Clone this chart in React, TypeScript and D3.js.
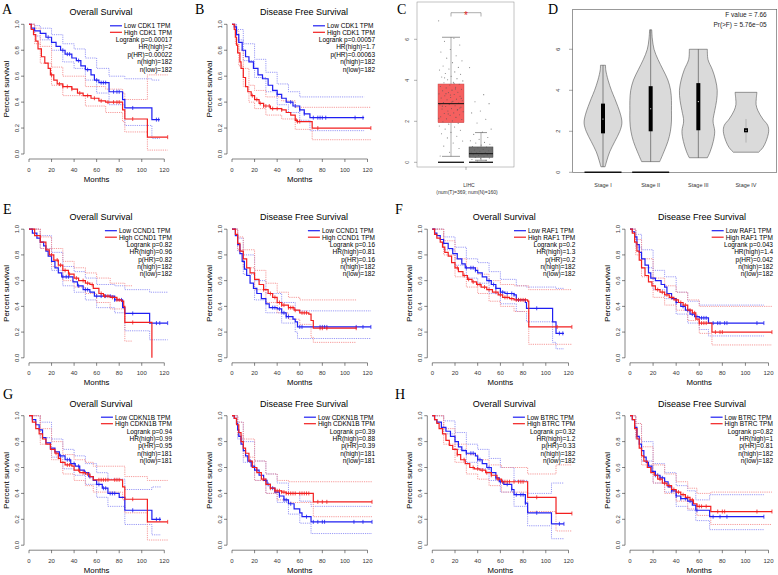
import React from "react";
import * as d3 from "d3";

type Pt = number[];

const SANS = "Liberation Sans, Arial, Helvetica, sans-serif";
const SERIF = "Liberation Serif, Times New Roman, serif";
const BLUE = "#1f1ff2";
const RED = "#f21f1f";
const BLUE_CI = "#8f8ff5";
const RED_CI = "#f59090";

const monthTicks = [0, 20, 40, 60, 80, 100, 120];
const survTicks = [0, 0.2, 0.4, 0.6, 0.8, 1.0];

// ---- survival curves: steps [t, s], ci [t, lo, hi], censor times ----
// A: CDK1 overall survival
const cdk1OsLow = [[0,1],[2,.97],[5,.95],[10,.93],[15,.9],[20,.86],[24,.83],[28,.8],[32,.77],[38,.74],[42,.72],[46,.68],[50,.65],[55,.61],[58,.57],[62,.55],[71,.48],[83,.42],[85,.355],[109,.265],[116,.265]];
const cdk1OsLowCI = [[0,1,1],[5,.91,.99],[10,.88,.97],[20,.8,.92],[30,.71,.85],[40,.66,.81],[50,.57,.74],[60,.47,.66],[71,.38,.6],[85,.22,.58],[109,.12,.57],[116,.12,.57]];
const cdk1OsLowCens = [17,30,34,36,44,52,60,64,66,68,75,78,80,92,113,115];
const cdk1OsHigh = [[0,1],[2,.96],[4,.92],[6,.87],[8,.81],[11,.75],[14,.7],[17,.66],[19,.61],[22,.57],[25,.54],[30,.52],[38,.5],[43,.47],[48,.45],[55,.43],[62,.41],[68,.4],[83,.34],[85,.27],[105,.13],[123,.13]];
const cdk1OsHighCI = [[0,1,1],[5,.85,.97],[10,.7,.83],[20,.53,.67],[30,.45,.6],[50,.37,.52],[68,.32,.5],[83,.25,.47],[85,.17,.42],[105,.03,.61],[123,.03,.61]];
const cdk1OsHighCens = [20,27,30,34,38,45,52,58,64,70,75,78,80,92,123];

// B: CDK1 disease free survival
const cdk1DfsLow = [[0,1],[2,.98],[4,.92],[6,.86],[9,.8],[12,.75],[15,.71],[19,.66],[23,.61],[27,.58],[32,.53],[36,.49],[40,.46],[44,.43],[48,.4],[54,.37],[60,.34],[64,.31],[69,.28],[117,.28]];
const cdk1DfsLowCI = [[0,1,1],[4,.88,.96],[10,.72,.85],[20,.59,.73],[30,.48,.63],[40,.38,.54],[50,.32,.48],[60,.26,.44],[69,.18,.44],[117,.18,.44]];
const cdk1DfsLowCens = [40,52,56,60,64,72,76,78,80,83,109,116];
const cdk1DfsHigh = [[0,1],[2,.96],[3,.9],[4,.84],[5,.78],[7,.71],[8,.66],[10,.59],[12,.52],[14,.48],[17,.45],[20,.42],[24,.39],[28,.37],[34,.35],[44,.34],[48,.32],[52,.3],[56,.26],[58,.25],[71,.2],[123,.2]];
const cdk1DfsHighCI = [[0,1,1],[3,.85,.95],[6,.68,.8],[10,.52,.66],[15,.4,.53],[20,.35,.49],[30,.3,.44],[44,.27,.41],[56,.19,.36],[71,.11,.36],[123,.11,.36]];
const cdk1DfsHighCens = [18,22,25,28,30,33,36,40,44,57,58,60,76,123];

// E: CCND1
const ccnd1OsLow = [[0,1],[3,.97],[7,.93],[10,.9],[13,.87],[15,.83],[17,.79],[20,.75],[23,.7],[26,.66],[29,.63],[39,.59],[43,.56],[48,.53],[54,.51],[58,.48],[74,.48],[76,.45],[83,.39],[85,.345],[107,.27],[123,.27]];
const ccnd1OsLowCI = [[0,1,1],[10,.85,.95],[20,.68,.82],[30,.56,.71],[40,.51,.67],[50,.45,.62],[60,.39,.57],[76,.35,.56],[85,.21,.53],[107,.14,.51],[123,.14,.51]];
const ccnd1OsLowCens = [30,33,35,44,50,52,60,64,68,72,76,82,92,113,116,123];
const ccnd1OsHigh = [[0,1],[5,.95],[10,.9],[15,.84],[18,.8],[22,.76],[26,.72],[30,.68],[35,.65],[40,.62],[44,.6],[50,.58],[54,.57],[57,.54],[62,.5],[66,.48],[72,.47],[78,.45],[82,.44],[84,.4],[85,.275],[109,0]];
const ccnd1OsHighCI = [[0,1,1],[10,.85,.94],[20,.71,.85],[30,.6,.75],[40,.55,.7],[50,.5,.66],[60,.43,.62],[72,.38,.58],[85,.13,.56],[92,.13,.56]];
const ccnd1OsHighCens = [20,25,28,32,36,42,48,52,56,64,67,70,74,78,80,92];
const ccnd1DfsLow = [[0,1],[3,.95],[5,.88],[7,.81],[9,.75],[11,.69],[13,.64],[16,.58],[19,.54],[22,.5],[26,.46],[30,.42],[33,.39],[40,.38],[44,.35],[48,.32],[54,.3],[56,.28],[58,.24],[123,.24]];
const ccnd1DfsLowCI = [[0,1,1],[5,.83,.93],[10,.65,.8],[20,.45,.6],[30,.35,.5],[44,.27,.43],[56,.2,.37],[58,.15,.365],[123,.15,.365]];
const ccnd1DfsLowCens = [36,38,42,46,48,50,60,62,78,80,82,84,110,116,123];
const ccnd1DfsHigh = [[0,1],[3,.96],[5,.89],[7,.83],[10,.77],[13,.7],[16,.66],[20,.61],[24,.57],[28,.53],[32,.5],[36,.47],[40,.43],[44,.41],[50,.39],[55,.37],[60,.35],[68,.34],[70,.29],[72,.23],[110,.23]];
const ccnd1DfsHighCI = [[0,1,1],[5,.84,.94],[10,.7,.84],[20,.53,.68],[30,.43,.58],[40,.35,.51],[50,.3,.47],[60,.26,.45],[70,.16,.45],[72,.12,.45],[110,.12,.45]];
const ccnd1DfsHighCens = [28,34,38,42,44,46,50,52,54,56,62,64,66,78,80,84,110];

// F: RAF1
const raf1OsLow = [[0,1],[2,.97],[4,.95],[7,.92],[10,.89],[14,.85],[18,.81],[22,.77],[26,.73],[29,.7],[38,.68],[40,.66],[44,.63],[48,.6],[52,.57],[56,.54],[60,.51],[64,.5],[72,.49],[74,.45],[82,.43],[83,.385],[105,.385],[106,.28],[109,.19],[116,.19]];
const raf1OsLowCI = [[0,1,1],[10,.84,.94],[20,.72,.86],[30,.62,.77],[40,.58,.74],[50,.5,.67],[60,.42,.61],[74,.36,.56],[83,.28,.55],[106,.12,.55],[109,.07,.54],[116,.07,.54]];
const raf1OsLowCens = [30,34,36,38,50,54,56,60,62,66,70,72,76,92,112,115];
const raf1OsHigh = [[0,1],[2,.96],[4,.93],[7,.9],[9,.86],[11,.82],[14,.79],[17,.74],[20,.7],[23,.67],[27,.64],[31,.61],[35,.59],[39,.57],[43,.55],[48,.53],[53,.51],[58,.49],[62,.47],[68,.46],[72,.45],[84,.44],[85,.24],[123,.24]];
const raf1OsHighCI = [[0,1,1],[10,.8,.91],[20,.63,.77],[30,.55,.7],[40,.5,.65],[50,.44,.6],[60,.4,.57],[72,.36,.56],[85,.105,.53],[123,.105,.53]];
const raf1OsHighCens = [22,28,32,36,40,42,46,50,56,60,64,66,70,74,76,78,80,82,110,123];
const raf1DfsLow = [[0,1],[2,.98],[4,.94],[6,.88],[8,.82],[10,.77],[13,.72],[16,.66],[18,.62],[22,.6],[27,.57],[30,.55],[32,.5],[36,.46],[40,.43],[44,.4],[48,.37],[52,.34],[56,.32],[60,.31],[68,.27],[116,.27]];
const raf1DfsLowCI = [[0,1,1],[5,.86,.96],[10,.7,.84],[20,.53,.68],[30,.46,.63],[40,.34,.51],[50,.27,.44],[60,.22,.41],[68,.17,.41],[116,.17,.41]];
const raf1DfsLowCens = [40,46,50,54,58,62,64,66,72,76,78,82,84,110,116];
const raf1DfsHigh = [[0,1],[2,.97],[4,.9],[6,.83],[8,.76],[10,.7],[13,.64],[16,.59],[19,.56],[22,.53],[26,.51],[30,.49],[34,.47],[38,.45],[42,.43],[46,.41],[50,.37],[54,.35],[57,.3],[60,.27],[71,.2],[123,.2]];
const raf1DfsHighCI = [[0,1,1],[5,.8,.92],[10,.63,.77],[20,.47,.62],[30,.41,.56],[40,.37,.51],[50,.29,.45],[60,.19,.4],[71,.1,.4],[123,.1,.4]];
const raf1DfsHighCens = [24,28,32,36,40,44,48,52,56,60,62,64,66,74,78,80,123];

// G: CDKN1B
const cdkn1bOsLow = [[0,1],[3,.97],[6,.93],[9,.89],[12,.83],[15,.79],[19,.75],[23,.72],[27,.69],[32,.66],[37,.63],[41,.61],[45,.58],[49,.56],[53,.53],[57,.5],[60,.47],[65,.44],[70,.4],[80,.37],[85,.27],[109,.2],[117,.2]];
const cdkn1bOsLowCI = [[0,1,1],[10,.83,.95],[20,.68,.82],[30,.59,.74],[40,.54,.69],[50,.47,.63],[60,.37,.56],[70,.3,.51],[85,.16,.43],[109,.08,.45],[117,.08,.45]];
const cdkn1bOsLowCens = [28,34,36,40,44,50,54,62,66,68,72,74,76,92,113,116];
const cdkn1bOsHigh = [[0,1],[3,.95],[6,.9],[9,.86],[12,.82],[15,.78],[19,.74],[23,.71],[26,.67],[28,.64],[32,.62],[38,.61],[40,.58],[45,.56],[50,.55],[54,.53],[57,.505],[82,.505],[83,.45],[85,.355],[105,.18],[123,.18]];
const cdkn1bOsHighCI = [[0,1,1],[10,.78,.9],[20,.66,.8],[30,.55,.7],[40,.5,.66],[50,.46,.64],[57,.41,.61],[83,.35,.61],[85,.25,.53],[105,.04,.5],[123,.04,.5]];
const cdkn1bOsHighCens = [24,34,36,44,48,52,62,64,66,68,70,76,78,80,92,123];
const cdkn1bDfsLow = [[0,1],[2,.98],[4,.94],[5,.89],[6,.84],[8,.78],[10,.73],[12,.69],[14,.65],[17,.61],[20,.58],[24,.54],[28,.5],[31,.47],[34,.44],[38,.41],[42,.38],[46,.35],[50,.32],[55,.28],[60,.25],[62,.22],[70,.18],[124,.18]];
const cdkn1bDfsLowCI = [[0,1,1],[5,.82,.95],[10,.64,.8],[20,.5,.65],[30,.4,.55],[40,.33,.48],[50,.24,.4],[60,.17,.34],[70,.09,.3],[124,.09,.3]];
const cdkn1bDfsLowCens = [16,22,30,32,36,42,46,48,52,66,72,76,80,82,108,116,124];
const cdkn1bDfsHigh = [[0,1],[2,.98],[4,.93],[6,.87],[8,.8],[10,.75],[12,.71],[15,.65],[18,.6],[22,.56],[26,.51],[30,.47],[34,.44],[38,.42],[44,.41],[48,.4],[72,.335],[124,.335]];
const cdkn1bDfsHighCI = [[0,1,1],[5,.85,.95],[10,.68,.82],[20,.5,.65],[30,.4,.55],[40,.35,.5],[50,.33,.49],[72,.22,.49],[124,.22,.49]];
const cdkn1bDfsHighCens = [28,34,38,40,42,44,46,48,50,52,54,56,60,62,64,66,68,76,80,84,124];

// H: BTRC
const btrcOsLow = [[0,1],[2,.97],[4,.95],[8,.91],[12,.88],[16,.84],[20,.8],[23,.76],[26,.73],[30,.71],[38,.69],[40,.66],[44,.63],[48,.6],[52,.56],[56,.52],[59,.49],[63,.47],[70,.43],[72,.39],[82,.325],[84,.25],[105,.165],[116,.165]];
const btrcOsLowCI = [[0,1,1],[10,.86,.96],[20,.74,.87],[30,.64,.78],[40,.59,.74],[50,.5,.67],[60,.41,.6],[72,.3,.5],[84,.15,.4],[105,.05,.48],[116,.05,.48]];
const btrcOsLowCens = [30,34,36,40,42,50,56,60,62,66,70,74,78,80,82,92,112,116];
const btrcOsHigh = [[0,1],[2,.97],[4,.94],[6,.9],[9,.86],[12,.81],[15,.77],[18,.74],[22,.7],[25,.66],[29,.63],[33,.6],[37,.59],[42,.58],[47,.56],[52,.54],[57,.51],[61,.49],[84,.37],[109,.245],[123,.245]];
const btrcOsHighCI = [[0,1,1],[10,.78,.9],[20,.64,.78],[30,.55,.7],[40,.51,.66],[50,.46,.62],[61,.41,.6],[84,.26,.55],[109,.11,.62],[123,.11,.62]];
const btrcOsHighCens = [22,28,36,40,44,48,52,58,62,64,66,68,72,76,78,80,92,123];
const btrcDfsLow = [[0,1],[2,.97],[4,.91],[6,.84],[8,.78],[10,.73],[12,.68],[14,.64],[16,.61],[19,.57],[22,.54],[26,.52],[30,.49],[33,.45],[36,.42],[40,.38],[44,.36],[50,.34],[54,.31],[57,.27],[69,.22],[116,.22]];
const btrcDfsLowCI = [[0,1,1],[5,.82,.94],[10,.65,.8],[20,.48,.63],[30,.41,.56],[40,.3,.46],[50,.27,.42],[57,.19,.35],[69,.12,.39],[116,.12,.39]];
const btrcDfsLowCens = [22,24,26,28,30,36,40,44,48,52,58,72,78,84,116];
const btrcDfsHigh = [[0,1],[2,.97],[4,.9],[6,.82],[8,.75],[10,.69],[12,.65],[15,.6],[18,.56],[21,.54],[24,.51],[28,.48],[32,.46],[36,.43],[40,.41],[44,.39],[48,.37],[52,.35],[55,.32],[58,.3],[70,.26],[123,.26]];
const btrcDfsHighCI = [[0,1,1],[5,.83,.94],[10,.62,.76],[20,.48,.62],[30,.4,.55],[40,.34,.49],[50,.28,.44],[58,.23,.4],[70,.16,.41],[123,.16,.41]];
const btrcDfsHighCens = [26,30,34,38,42,46,50,54,58,60,62,66,76,80,82,110,123];

// stats text
const statsA = ["Logrank p=0.00017", "HR(high)=2", "p(HR)=0.00022", "n(high)=182", "n(low)=182"];
const statsB = ["Logrank p=0.00057", "HR(high)=1.7", "p(HR)=0.00063", "n(high)=182", "n(low)=182"];
const statsE1 = ["Logrank p=0.82", "HR(high)=0.96", "p(HR)=0.82", "n(high)=182", "n(low)=182"];
const statsE2 = ["Logrank p=0.16", "HR(high)=0.81", "p(HR)=0.16", "n(high)=182", "n(low)=182"];
const statsF1 = ["Logrank p=0.2", "HR(high)=1.3", "p(HR)=0.2", "n(high)=182", "n(low)=182"];
const statsF2 = ["Logrank p=0.043", "HR(high)=1.4", "p(HR)=0.042", "n(high)=182", "n(low)=182"];
const statsG1 = ["Logrank p=0.94", "HR(high)=0.99", "p(HR)=0.95", "n(high)=181", "n(low)=181"];
const statsG2 = ["Logrank p=0.39", "HR(high)=0.88", "p(HR)=0.39", "n(high)=181", "n(low)=181"];
const statsH1 = ["Logrank p=0.32", "HR(high)=1.2", "p(HR)=0.33", "n(high)=182", "n(low)=182"];
const statsH2 = ["Logrank p=0.82", "HR(high)=1", "p(HR)=0.81", "n(high)=182", "n(low)=182"];

// C: LIHC expression box plot
const lihcGroups = ["Tumor", "Normal"];
const lihcBoxes = [[0.29, 1.93, 2.86, 3.82, 6.1], [0.1, 0.24, 0.42, 0.75, 1.45]];
const lihcTicks = [0, 2, 4, 6];
const tumorPoints = [6.9, 6.05, 5.9, 5.72, 5.5, 5.38, 5.2, 5.08, 4.95, 4.86, 4.7, 4.63, 4.55, 4.5, 4.41, 4.33, 4.29, 4.2, 4.16, 4.08, 4.03, 3.97, 3.9, 3.88, 3.81, 3.77, 3.7, 3.66, 3.63, 3.56, 3.52, 3.49, 3.42, 3.4, 3.34, 3.31, 3.25, 3.22, 3.16, 3.14, 3.08, 3.05, 3.0, 2.97, 2.91, 2.89, 2.83, 2.81, 2.76, 2.72, 2.69, 2.62, 2.6, 2.55, 2.5, 2.47, 2.41, 2.38, 2.32, 2.29, 2.22, 2.19, 2.12, 2.09, 2.02, 1.98, 1.9, 1.86, 1.77, 1.72, 1.62, 1.56, 1.46, 1.39, 1.27, 1.19, 1.04, 0.94, 0.79, 0.67, 0.49, 0.31, 3.58, 3.35, 3.12, 2.94, 2.74, 2.57, 2.36, 2.15, 3.85, 4.12, 2.65, 3.28];
const normalPoints = [4.62, 3.3, 2.95, 2.86, 2.5, 2.41, 2.1, 1.92, 1.62, 1.48, 1.36, 1.21, 1.12, 1.05, 0.97, 0.94, 0.88, 0.84, 0.77, 0.74, 0.71, 0.65, 0.63, 0.6, 0.56, 0.54, 0.5, 0.48, 0.46, 0.43, 0.41, 0.37, 0.36, 0.33, 0.3, 0.27, 0.24, 0.21, 0.18, 0.14, 0.1, 0.06];

// D: violin by stage
const stages = ["Stage I", "Stage II", "Stage III", "Stage IV"];
const stageTicks = [0, 2, 4, 6];
const stageDensity = [
  [[0.27,0.1],[0.6,0.19],[1.0,0.32],[1.5,0.56],[2.0,0.8],[2.4,0.9],[2.8,0.84],[3.2,0.71],[3.6,0.56],[4.0,0.4],[4.5,0.24],[5.0,0.13],[5.22,0.12]],
  [[0.52,0.43],[1.0,0.63],[1.5,0.82],[2.0,0.94],[2.5,0.99],[3.0,0.99],[3.5,0.99],[4.0,0.95],[4.5,0.82],[5.0,0.59],[5.5,0.35],[6.0,0.16],[6.5,0.08],[6.95,0.05]],
  [[0.71,0.43],[1.0,0.56],[1.5,0.71],[2.0,0.78],[2.5,0.7],[3.0,0.78],[3.5,0.87],[4.0,0.9],[4.5,0.82],[5.0,0.67],[5.5,0.46],[6.0,0.43]],
  [[0.98,0.6],[1.2,0.8],[1.5,0.95],[2.0,1.08],[2.3,1.03],[2.6,0.8],[3.0,0.57],[3.3,0.48],[3.6,0.49],[3.9,0.52]],
];
const stageStats = [[0.27, 1.9, 2.6, 3.35, 5.22], [0.52, 2.0, 3.1, 4.2, 6.95], [0.71, 2.05, 3.45, 4.35, 6.0], [1.45, 1.95, 2.05, 2.15, 2.6]];
const stageZeros = ["Stage I", "Stage II"];
const anovaText = ["F value = 7.66", "Pr(>F) = 5.76e\u221205"];

// layout
const cols = [{ x0: 29, x120: 164.3 }, { x0: 232, x120: 367.5 }, { x0: 432.3, x120: 568.5 }, { x0: 630, x120: 768.5 }];
const rows = [{ y1: 24.3, y0: 154 }, { y1: 229.2, y0: 357.8 }, { y1: 415.7, y0: 545.2 }];
const OS = "Overall Survival";
const DFS = "Disease Free Survival";

const kmPanels = [
  { c: 0, r: 0, title: OS, gene: "CDK1", stats: statsA, low: [cdk1OsLow, cdk1OsLowCI, cdk1OsLowCens], high: [cdk1OsHigh, cdk1OsHighCI, cdk1OsHighCens] },
  { c: 1, r: 0, title: DFS, gene: "CDK1", stats: statsB, low: [cdk1DfsLow, cdk1DfsLowCI, cdk1DfsLowCens], high: [cdk1DfsHigh, cdk1DfsHighCI, cdk1DfsHighCens] },
  { c: 0, r: 1, title: OS, gene: "CCND1", stats: statsE1, low: [ccnd1OsLow, ccnd1OsLowCI, ccnd1OsLowCens], high: [ccnd1OsHigh, ccnd1OsHighCI, ccnd1OsHighCens] },
  { c: 1, r: 1, title: DFS, gene: "CCND1", stats: statsE2, low: [ccnd1DfsLow, ccnd1DfsLowCI, ccnd1DfsLowCens], high: [ccnd1DfsHigh, ccnd1DfsHighCI, ccnd1DfsHighCens] },
  { c: 2, r: 1, title: OS, gene: "RAF1", stats: statsF1, low: [raf1OsLow, raf1OsLowCI, raf1OsLowCens], high: [raf1OsHigh, raf1OsHighCI, raf1OsHighCens] },
  { c: 3, r: 1, title: DFS, gene: "RAF1", stats: statsF2, low: [raf1DfsLow, raf1DfsLowCI, raf1DfsLowCens], high: [raf1DfsHigh, raf1DfsHighCI, raf1DfsHighCens] },
  { c: 0, r: 2, title: OS, gene: "CDKN1B", stats: statsG1, low: [cdkn1bOsLow, cdkn1bOsLowCI, cdkn1bOsLowCens], high: [cdkn1bOsHigh, cdkn1bOsHighCI, cdkn1bOsHighCens] },
  { c: 1, r: 2, title: DFS, gene: "CDKN1B", stats: statsG2, low: [cdkn1bDfsLow, cdkn1bDfsLowCI, cdkn1bDfsLowCens], high: [cdkn1bDfsHigh, cdkn1bDfsHighCI, cdkn1bDfsHighCens] },
  { c: 2, r: 2, title: OS, gene: "BTRC", stats: statsH1, low: [btrcOsLow, btrcOsLowCI, btrcOsLowCens], high: [btrcOsHigh, btrcOsHighCI, btrcOsHighCens] },
  { c: 3, r: 2, title: DFS, gene: "BTRC", stats: statsH2, low: [btrcDfsLow, btrcDfsLowCI, btrcDfsLowCens], high: [btrcDfsHigh, btrcDfsHighCI, btrcDfsHighCens] },
];

const panelLetters = [
  { t: "A", x: 2, y: 14 }, { t: "B", x: 195, y: 14 }, { t: "C", x: 397, y: 14 }, { t: "D", x: 548, y: 14 },
  { t: "E", x: 3, y: 213.5 }, { t: "F", x: 395, y: 213.5 }, { t: "G", x: 3, y: 398.5 }, { t: "H", x: 395, y: 398.5 },
];

let measureCtx: CanvasRenderingContext2D | null = null;
function textWidth(s: string, size: number) {
  if (!measureCtx && typeof document !== "undefined") measureCtx = document.createElement("canvas").getContext("2d");
  if (!measureCtx) return s.length * size * 0.55;
  measureCtx.font = `${size}px ${SANS}`;
  return measureCtx.measureText(s).width;
}

function survAt(steps: Pt[], t: number) {
  const i = d3.bisector((d: Pt) => d[0]).right(steps, t) - 1;
  return steps[Math.max(0, i)][1];
}

function KMPlot({ p }: { p: any }) {
  const { x0, x120 } = cols[p.c];
  const { y1, y0 } = rows[p.r];
  const x = d3.scaleLinear().domain([0, 120]).range([x0, x120]);
  const y = d3.scaleLinear().domain([0, 1]).range([y0, y1]);
  const line = d3.line<Pt>().x(d => x(d[0])).y(d => y(d[1])).curve(d3.curveStepAfter);
  const hiLine = d3.line<Pt>().x(d => x(d[0])).y(d => y(d[2])).curve(d3.curveStepAfter);
  const axX = x0 - 5;
  const axY = y0 + 5;
  const fs = 6.5;
  const labels = [`Low ${p.gene} TPM`, `High ${p.gene} TPM`];
  const legRight = x0 + 143;
  const legX = legRight - (d3.max(labels, s => textWidth(s, fs)) as number);
  const curves = [
    { d: p.low, col: BLUE, ci: BLUE_CI },
    { d: p.high, col: RED, ci: RED_CI },
  ];
  return (
    <g fontFamily={SANS}>
      <text x={x0 + 72} y={y1 - 9} textAnchor="middle" fontSize={9}>{p.title}</text>
      {curves.map((k, i) => (
        <g key={"ci" + i} fill="none" stroke={k.ci} strokeWidth={0.9} strokeDasharray="1.2 1">
          <path d={line(k.d[1]) || ""} />
          <path d={hiLine(k.d[1]) || ""} />
        </g>
      ))}
      {curves.map((k, i) => {
        const steps: Pt[] = k.d[0];
        const tEnd = steps[steps.length - 1][0];
        return (
          <g key={"km" + i}>
            <path d={line(steps) || ""} fill="none" stroke={k.col} strokeWidth={1.2} />
            {(k.d[2] as number[]).filter(t => t <= tEnd).map((t, j) => {
              const yy = y(survAt(steps, t));
              return <line key={j} x1={x(t)} x2={x(t)} y1={yy - 2} y2={yy + 2} stroke={k.col} strokeWidth={0.8} />;
            })}
          </g>
        );
      })}
      {/* y axis */}
      <line x1={axX} x2={axX} y1={y(0)} y2={y(1)} stroke="#333" strokeWidth={0.6} />
      {survTicks.map(v => (
        <g key={"yt" + v}>
          <line x1={axX - 3} x2={axX} y1={y(v)} y2={y(v)} stroke="#333" strokeWidth={0.6} />
          <text transform={`translate(${axX - 5},${y(v)}) rotate(-90)`} textAnchor="middle" fontSize={6} fill="#333">{v.toFixed(1)}</text>
        </g>
      ))}
      <text transform={`translate(${x0 - 20},${(y0 + y1) / 2}) rotate(-90)`} textAnchor="middle" fontSize={8}>Percent survival</text>
      {/* x axis */}
      <line x1={x(0)} x2={x(120)} y1={axY} y2={axY} stroke="#333" strokeWidth={0.6} />
      {monthTicks.map(v => (
        <g key={"xt" + v}>
          <line x1={x(v)} x2={x(v)} y1={axY} y2={axY + 3} stroke="#333" strokeWidth={0.6} />
          <text x={x(v)} y={y0 + 17.5} textAnchor="middle" fontSize={6} fill="#333">{v}</text>
        </g>
      ))}
      <text x={x(60)} y={y0 + 27.5} textAnchor="middle" fontSize={7.8}>Months</text>
      {/* legend */}
      {labels.map((s, i) => (
        <g key={"lg" + i}>
          <line x1={legX - 14} x2={legX - 2} y1={y1 + 1.5 + i * 6.5} y2={y1 + 1.5 + i * 6.5} stroke={i ? RED : BLUE} strokeWidth={1.2} />
          <text x={legX} y={y1 + 3.8 + i * 6.5} fontSize={fs}>{s}</text>
        </g>
      ))}
      {p.stats.map((s: string, i: number) => (
        <text key={"st" + i} x={legRight} y={y1 + 17.8 + i * 7.35} textAnchor="end" fontSize={fs}>{s}</text>
      ))}
    </g>
  );
}

function BoxPanel() {
  const y = d3.scaleLinear().domain([0, 7.8]).range([162.3, 2.4]);
  const xg = d3.scalePoint<string>().domain(lihcGroups).range([451, 481]);
  const halfW = [13, 12];
  const capW = [9, 6];
  const fills = ["#f5605f", "#707070"];
  const strokes = ["#b84444", "#333"];
  const pts = [tumorPoints, normalPoints];
  return (
    <g fontFamily={SANS}>
      <rect x={417} y={2} width={97} height={165} fill="none" stroke="#888" strokeWidth={0.5} />
      {lihcTicks.map(v => (
        <g key={v}>
          <line x1={414} x2={417} y1={y(v)} y2={y(v)} stroke="#666" strokeWidth={0.5} />
          <text transform={`translate(${409},${y(v)}) rotate(-90)`} textAnchor="middle" fontSize={5} fill="#444">{v}</text>
        </g>
      ))}
      {lihcGroups.map((g, i) => {
        const cx = xg(g) as number;
        const [lo, q1, md, q3, hi] = lihcBoxes[i];
        return (
          <g key={g}>
            <line x1={cx} x2={cx} y1={y(hi)} y2={y(q3)} stroke="#333" strokeWidth={0.4} />
            <line x1={cx} x2={cx} y1={y(q1)} y2={y(lo)} stroke="#333" strokeWidth={0.4} />
            <line x1={cx - capW[i]} x2={cx + capW[i]} y1={y(hi)} y2={y(hi)} stroke="#333" strokeWidth={0.5} />
            <line x1={cx - capW[i]} x2={cx + capW[i]} y1={y(lo)} y2={y(lo)} stroke="#333" strokeWidth={0.5} />
            <rect x={cx - halfW[i]} y={y(q3)} width={halfW[i] * 2} height={y(q1) - y(q3)} fill={fills[i]} stroke={strokes[i]} strokeWidth={0.4} />
            <line x1={cx - halfW[i]} x2={cx + halfW[i]} y1={y(0)} y2={y(0)} stroke="#222" strokeWidth={1.4} />
          </g>
        );
      })}
      {lihcGroups.map((g, i) => {
        const cx = xg(g) as number;
        return pts[i].map((v, j) => (
          <circle key={g + j} cx={cx + (((j * 0.618034) % 1) - 0.5) * 1.9 * halfW[i]} cy={y(v)} r={0.55} fill="#555" opacity={0.75} />
        ));
      })}
      {lihcGroups.map((g, i) => {
        const cx = xg(g) as number;
        return <line key={"md" + g} x1={cx - halfW[i]} x2={cx + halfW[i]} y1={y(lihcBoxes[i][2])} y2={y(lihcBoxes[i][2])} stroke="#111" strokeWidth={1} />;
      })}
      <path d={`M${xg("Tumor")},16.5V12.7H${xg("Normal")}V16.5`} fill="none" stroke="#777" strokeWidth={0.6} />
      <text x={466} y={18.5} textAnchor="middle" fontSize={10} fill="#e02020">*</text>
      <line x1={466} x2={466} y1={167} y2={170} stroke="#666" strokeWidth={0.5} />
      <text x={469} y={187} textAnchor="middle" fontSize={5} fill="#333">LIHC</text>
      <text x={467} y={194} textAnchor="middle" fontSize={5} fill="#333">(num(T)=369; num(N)=160)</text>
    </g>
  );
}

function ViolinPanel() {
  const y = d3.scaleLinear().domain([0, 7.95]).range([172.3, 9.3]);
  const xs = d3.scalePoint<string>().domain(stages).range([603, 746]);
  const w = d3.scaleLinear().domain([0, 1]).range([0, 21]);
  return (
    <g fontFamily={SANS}>
      <rect x={572.7} y={9.3} width={204} height={163} fill="none" stroke="#555" strokeWidth={0.6} />
      {stageTicks.map(v => (
        <g key={v}>
          <line x1={569} x2={572.7} y1={y(v)} y2={y(v)} stroke="#555" strokeWidth={0.5} />
          <text transform={`translate(${560},${y(v)}) rotate(-90)`} textAnchor="middle" fontSize={5.5} fill="#333">{v}</text>
        </g>
      ))}
      {stages.map((s, i) => {
        const cx = xs(s) as number;
        const area = d3.area<Pt>().y(d => y(d[0])).x0(d => cx - w(d[1])).x1(d => cx + w(d[1])).curve(d3.curveCatmullRom);
        const [mn, q1, md, q3, mx] = stageStats[i];
        return (
          <g key={s}>
            <path d={area(stageDensity[i]) || ""} fill="#dadada" stroke="#555" strokeWidth={0.6} />
            <line x1={cx} x2={cx} y1={y(mn)} y2={y(mx)} stroke={i === 3 ? "#999" : "#444"} strokeWidth={0.6} />
            <rect x={cx - 2} y={y(q3)} width={4} height={y(q1) - y(q3)} fill="#000" />
            <circle cx={cx} cy={y(md)} r={0.6} fill="#fff" />
            {stageZeros.includes(s) && <line x1={cx - 18.5} x2={cx + 18.5} y1={y(0)} y2={y(0)} stroke="#111" strokeWidth={1.4} />}
            <text x={cx} y={187} textAnchor="middle" fontSize={5.5} fill="#333">{s}</text>
          </g>
        );
      })}
      {anovaText.map((t, i) => (
        <text key={i} x={766.7} y={17.3 + i * 10} textAnchor="end" fontSize={6.5} fill="#222">{t}</text>
      ))}
    </g>
  );
}

export default function App() {
  return (
    <svg width={778} height={575} viewBox="0 0 778 575" style={{ position: "absolute", left: 0, top: 0, background: "#fff" }}>
      <rect width={778} height={575} fill="#fff" />
      {kmPanels.map((p, i) => <KMPlot key={i} p={p} />)}
      <BoxPanel />
      <ViolinPanel />
      {panelLetters.map(l => (
        <text key={l.t} x={l.x} y={l.y} fontFamily={SERIF} fontSize={14}>{l.t}</text>
      ))}
    </svg>
  );
}
